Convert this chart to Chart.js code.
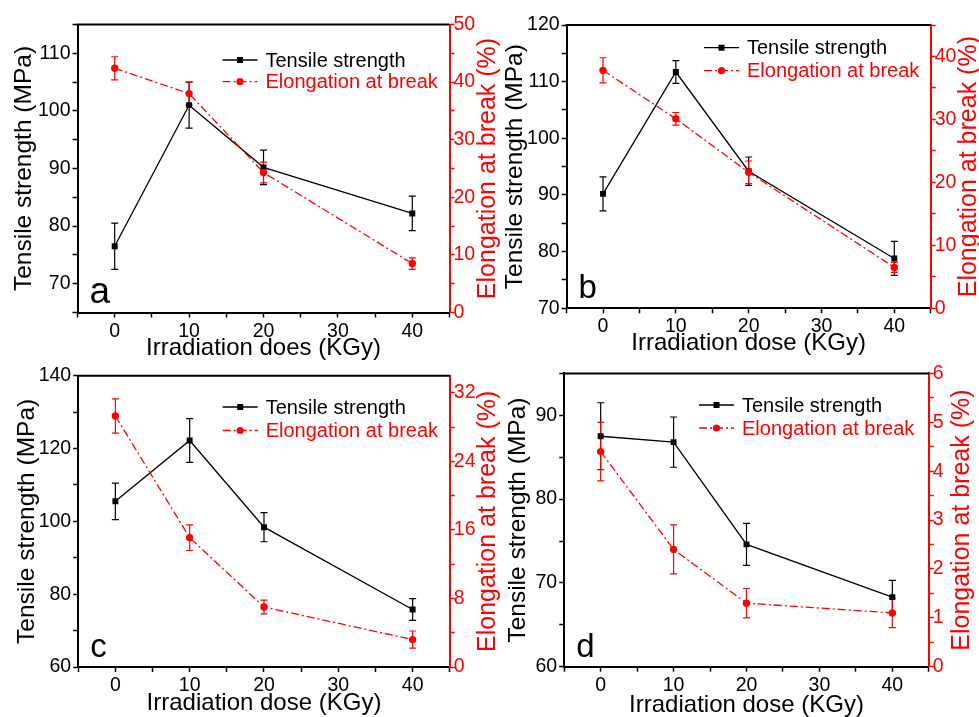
<!DOCTYPE html>
<html>
<head>
<meta charset="utf-8">
<script src="https://cdn.jsdelivr.net/npm/chart.js@4.4.1/dist/chart.umd.min.js"></script>
<style>
  html, body { margin: 0; padding: 0; background: #fff; }
  #wrap { position: relative; width: 979px; height: 717px; overflow: hidden; }
  #wrap canvas { position: absolute; left: 0; top: 0; }
</style>
</head>
<body>
<div id="wrap">
  <canvas id="chartA" width="979" height="717"></canvas>
  <canvas id="chartB" width="979" height="717"></canvas>
  <canvas id="chartC" width="979" height="717"></canvas>
  <canvas id="chartD" width="979" height="717"></canvas>
</div>
<script>
// irradiation dose (KGy)
const doses = [0, 10, 20, 40];

// panel a
const tensileA = [76.5, 101.0, 90.2, 82.2];
const tensileErrA = [4, 4, 3, 3];
const elongA = [42.4, 38.0, 24.3, 8.5];
const elongErrA = [2, 2, 1.8, 1];

// panel b
const tensileB = [90.2, 111.7, 94.2, 78.8];
const tensileErrB = [3, 2, 2.5, 3];
const elongB = [37.8, 30.1, 21.6, 6.5];
const elongErrB = [2, 1, 1.8, 0.8];

// panel c
const tensileC = [105.5, 122.2, 98.4, 75.8];
const tensileErrC = [5, 6, 4, 3];
const elongC = [29.3, 15.1, 7.0, 3.2];
const elongErrC = [2, 1.5, 0.8, 1];

// panel d
const tensileD = [87.5, 86.8, 74.6, 68.3];
const tensileErrD = [4, 3, 2.5, 2];
const elongD = [4.4, 2.4, 1.3, 1.1];
const elongErrD = [0.6, 0.5, 0.3, 0.3];

// axis ranges: [min, max, minor step, labelled step]
const doseAxis = [-5, 45, 5, 10];
const leftAxisA = [65, 115, 5, 10];
const rightAxisA = [0, 50, 5, 10];
const leftAxisB = [70, 120, 5, 10];
const rightAxisB = [0, 45, 5, 10];
const leftAxisC = [60, 140, 10, 20];
const rightAxisC = [0, 34, 4, 8];
const leftAxisD = [60, 95, 5, 10];
const rightAxisD = [0, 6, 0.5, 1];

const W = 979, H = 717;
const FONT = "'Liberation Sans', Arial, sans-serif";
const RED = '#ff0000';
const X_TITLE_SIZE = 24;
const Y_TITLE_SIZE = 24.5;
const R_TITLE_SIZE = 25;
const TICK_SIZE = 19.5;

function tickList(min, max, step) {
  const out = [];
  let v = Math.ceil(min / step - 1e-9) * step;
  while (v <= max + 1e-9) {
    out.push({ value: +v.toFixed(6) });
    v += step;
  }
  return out;
}
function isMult(v, m) {
  const r = v / m;
  return Math.abs(r - Math.round(r)) < 1e-6;
}

function axis(range, color, pad, extra) {
  return Object.assign({
    type: 'linear',
    min: range[0],
    max: range[1],
    afterBuildTicks: s => { s.ticks = tickList(range[0], range[1], range[2]); },
    ticks: {
      callback: v => isMult(v, range[3]) ? v : '',
      font: { family: FONT, size: TICK_SIZE },
      color: color,
      padding: pad,
      autoSkip: false,
      maxRotation: 0
    },
    grid: { drawOnChartArea: false, drawTicks: true, tickLength: 5, tickColor: color, tickWidth: 1.5 },
    border: { display: true, color: color, width: 2 }
  }, extra);
}

function makePanel(id, p) {
  const halfY = Y_TITLE_SIZE * 0.6;
  const halfX = X_TITLE_SIZE * 0.6;
  const pl = p.leftTitleX - halfY;
  const wL = p.L - pl;
  const rightEdge = Math.min(W, p.R + 45);
  const wR = rightEdge - p.R;
  const bottomEdge = Math.min(H, p.xTitleY + halfX);
  const hX = bottomEdge - p.B;
  const titlePadBottom = bottomEdge - p.xTitleY - halfX;

  const panelPlugin = {
    id: 'panel' + id,
    beforeDatasetsDraw(chart) {
      const ctx = chart.ctx;
      chart.data.datasets.forEach((ds, i) => {
        const meta = chart.getDatasetMeta(i);
        const ys = chart.scales[ds.yAxisID];
        ctx.save();
        ctx.strokeStyle = ds.borderColor;
        ctx.lineWidth = 1.2;
        ds.data.forEach((pt, j) => {
          const x = meta.data[j].x;
          const top = ys.getPixelForValue(pt.y + ds.errors[j]);
          const bot = ys.getPixelForValue(pt.y - ds.errors[j]);
          ctx.beginPath();
          ctx.moveTo(x, top); ctx.lineTo(x, bot);
          ctx.moveTo(x - 3.5, top); ctx.lineTo(x + 3.5, top);
          ctx.moveTo(x - 3.5, bot); ctx.lineTo(x + 3.5, bot);
          ctx.stroke();
        });
        ctx.restore();
      });
    },
    afterDraw(chart) {
      const ctx = chart.ctx;
      const a = chart.chartArea;
      ctx.save();
      // top frame
      ctx.strokeStyle = '#000';
      ctx.lineWidth = 2;
      ctx.beginPath();
      ctx.moveTo(a.left - 1, a.top);
      ctx.lineTo(a.right, a.top);
      ctx.stroke();

      // right axis title, reading upwards
      ctx.save();
      ctx.translate(p.rightTitleX, (a.top + a.bottom) / 2);
      ctx.rotate(-Math.PI / 2);
      ctx.fillStyle = RED;
      ctx.font = R_TITLE_SIZE + 'px ' + FONT;
      ctx.textAlign = 'center';
      ctx.textBaseline = 'middle';
      ctx.fillText('Elongation at break (%)', 0, 0);
      ctx.restore();

      // legend
      const lx = a.left + p.legendDx;
      const ly = a.top + p.legendDy;
      const rows = [
        { ds: chart.data.datasets[0], y: ly },
        { ds: chart.data.datasets[1], y: ly + p.legendGap }
      ];
      ctx.font = '20px ' + FONT;
      ctx.textAlign = 'left';
      ctx.textBaseline = 'middle';
      rows.forEach(r => {
        ctx.strokeStyle = r.ds.borderColor;
        ctx.fillStyle = r.ds.borderColor;
        ctx.lineWidth = 1.3;
        ctx.setLineDash(r.ds.borderDash || []);
        ctx.beginPath();
        ctx.moveTo(lx, r.y);
        ctx.lineTo(lx + 35, r.y);
        ctx.stroke();
        ctx.setLineDash([]);
        if (r.ds.pointStyle === 'rect') {
          ctx.fillRect(lx + 17.5 - 3, r.y - 3, 6, 6);
        } else {
          ctx.beginPath();
          ctx.arc(lx + 17.5, r.y, 3.6, 0, Math.PI * 2);
          ctx.fill();
        }
        ctx.fillText(r.ds.label, lx + 43, r.y + 1);
      });

      // panel letter
      ctx.fillStyle = '#000';
      ctx.font = p.letterSize + 'px ' + FONT;
      ctx.textBaseline = 'alphabetic';
      ctx.fillText(p.letter, a.left + 12, a.bottom - 10);
      ctx.restore();
    }
  };

  return new Chart(document.getElementById(id), {
    type: 'line',
    data: {
      datasets: [
        {
          label: 'Tensile strength',
          data: doses.map((d, i) => ({ x: d, y: p.tensile[i] })),
          errors: p.tensileErr,
          yAxisID: 'y',
          borderColor: '#000',
          backgroundColor: '#000',
          borderWidth: 1.3,
          pointStyle: 'rect',
          pointRadius: 4.2,
          pointBorderWidth: 0,
          tension: 0,
          order: 2
        },
        {
          label: 'Elongation at break',
          data: doses.map((d, i) => ({ x: d, y: p.elong[i] })),
          errors: p.elongErr,
          yAxisID: 'y1',
          borderColor: RED,
          backgroundColor: RED,
          borderWidth: 1.3,
          borderDash: [8, 3, 2, 3],
          pointStyle: 'circle',
          pointRadius: 3.7,
          pointBorderWidth: 0,
          tension: 0,
          order: 1
        }
      ]
    },
    options: {
      responsive: false,
      animation: false,
      devicePixelRatio: 1,
      layout: { padding: { left: pl, right: W - rightEdge, top: p.T, bottom: H - bottomEdge } },
      plugins: { legend: { display: false }, tooltip: { enabled: false } },
      scales: {
        x: axis(doseAxis, '#000', 2, {
          position: 'bottom',
          afterFit: s => { s.height = hX; },
          title: { display: true, text: p.xTitle, color: '#000', font: { family: FONT, size: X_TITLE_SIZE }, padding: { top: 0, bottom: titlePadBottom } }
        }),
        y: axis(p.leftAxis, '#000', 2, {
          position: 'left',
          afterFit: s => { s.width = wL; },
          title: { display: true, text: 'Tensile strength (MPa)', color: '#000', font: { family: FONT, size: Y_TITLE_SIZE }, padding: { top: 0, bottom: 0 } }
        }),
        y1: axis(p.rightAxis, RED, -1, {
          position: 'right',
          afterFit: s => { s.width = wR; }
        })
      }
    },
    plugins: [panelPlugin]
  });
}

makePanel('chartA', {
  tensile: tensileA, tensileErr: tensileErrA, elong: elongA, elongErr: elongErrA,
  leftAxis: leftAxisA, rightAxis: rightAxisA, xTitle: 'Irradiation does (KGy)',
  L: 77.5, R: 449.5, T: 24.5, B: 312.5,
  leftTitleX: 24, rightTitleX: 488, xTitleY: 348,
  legendDx: 145, legendDy: 35.5, legendGap: 21.7, letter: 'a', letterSize: 37
});
makePanel('chartB', {
  tensile: tensileB, tensileErr: tensileErrB, elong: elongB, elongErr: elongErrB,
  leftAxis: leftAxisB, rightAxis: rightAxisB, xTitle: 'Irradiation dose (KGy)',
  L: 566.6, R: 930.7, T: 25, B: 308.3,
  leftTitleX: 515, rightTitleX: 969, xTitleY: 343.7,
  legendDx: 137.4, legendDy: 22.7, legendGap: 23, letter: 'b', letterSize: 33
});
makePanel('chartC', {
  tensile: tensileC, tensileErr: tensileErrC, elong: elongC, elongErr: elongErrC,
  leftAxis: leftAxisC, rightAxis: rightAxisC, xTitle: 'Irradiation dose (KGy)',
  L: 78.2, R: 449.8, T: 375.7, B: 667,
  leftTitleX: 27.4, rightTitleX: 488, xTitleY: 703.7,
  legendDx: 144.5, legendDy: 31.3, legendGap: 23.5, letter: 'c', letterSize: 33
});
makePanel('chartD', {
  tensile: tensileD, tensileErr: tensileErrD, elong: elongD, elongErr: elongErrD,
  leftAxis: leftAxisD, rightAxis: rightAxisD, xTitle: 'Irradiation dose (KGy)',
  L: 564.2, R: 928.8, T: 373.4, B: 666.7,
  leftTitleX: 518.5, rightTitleX: 962, xTitleY: 705,
  legendDx: 134.8, legendDy: 31.6, legendGap: 23, letter: 'd', letterSize: 33
});
</script>
</body>
</html>
